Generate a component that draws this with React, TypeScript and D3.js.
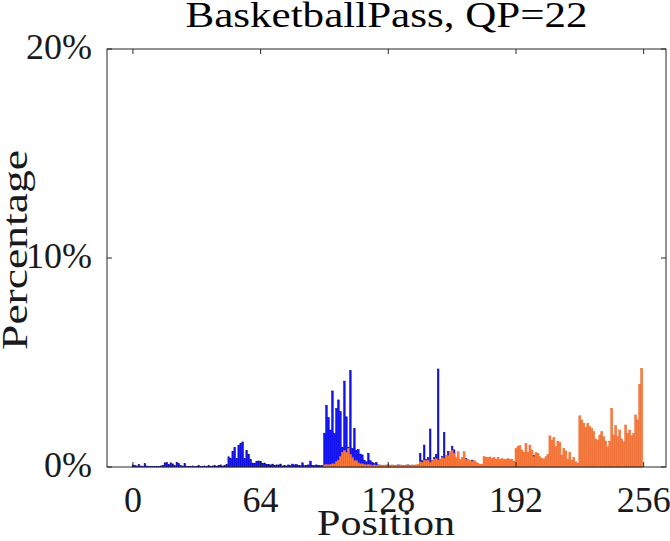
// App.tsx
import React, { useEffect, useRef } from 'react';
import * as d3 from 'd3';

// percentage per position (0..255)
const blueValues: number[] = [
    0.10, 0.08, 0.05, 0.12, 0.05, 0.04, 0.16, 0.05, 0.03, 0.04, 0.03, 0.03, 0.04, 0.03, 0.05, 0.08,
    0.20, 0.22, 0.12, 0.20, 0.15, 0.06, 0.22, 0.16, 0.06, 0.05, 0.16, 0.04, 0.04, 0.03, 0.05, 0.03,
    0.04, 0.06, 0.03, 0.04, 0.05, 0.03, 0.06, 0.04, 0.05, 0.07, 0.04, 0.08, 0.10, 0.05, 0.06, 0.12,
    0.49, 0.40, 0.75, 0.94, 0.41, 1.04, 1.13, 1.20, 0.41, 0.78, 0.61, 0.35, 0.19, 0.18, 0.27, 0.29,
    0.27, 0.18, 0.19, 0.13, 0.13, 0.10, 0.14, 0.08, 0.10, 0.10, 0.14, 0.05, 0.08, 0.05, 0.10, 0.07,
    0.14, 0.10, 0.12, 0.08, 0.06, 0.20, 0.06, 0.08, 0.10, 0.28, 0.08, 0.06, 0.10, 0.08, 0.06, 0.08,
    1.62, 2.95, 2.37, 1.77, 3.64, 1.60, 2.80, 3.21, 2.65, 0.95, 4.11, 2.40, 0.95, 4.62, 0.90, 1.85,
    0.81, 0.83, 0.62, 0.58, 0.33, 0.25, 0.66, 0.30, 0.22, 0.17, 0.22, 0.10, 0.06, 0.08, 0.05, 0.06,
    0.10, 0.05, 0.08, 0.06, 0.05, 0.10, 0.06, 0.05, 0.08, 0.06, 0.10, 0.05, 0.08, 0.06, 0.05, 0.08,
    0.65, 0.30, 1.05, 0.35, 0.45, 1.82, 0.30, 0.45, 0.60, 4.69, 0.35, 0.50, 1.66, 0.45, 0.75, 0.50,
    1.00, 0.82, 0.30, 0.25, 0.20, 0.15, 0.10, 0.40, 0.10, 0.10, 0.33, 0.05, 0.05, 0.04, 0.05, 0.04,
    0.05, 0.04, 0.05, 0.05, 0.04, 0.05, 0.04, 0.05, 0.05, 0.04, 0.05, 0.04, 0.05, 0.05, 0.04, 0.05,
    0.05, 0.04, 0.05, 0.04, 0.05, 0.05, 0.04, 0.05, 0.04, 0.55, 0.04, 0.05, 0.04, 0.05, 0.04, 0.05,
    0.04, 0.05, 0.04, 0.05, 0.04, 0.05, 0.04, 0.05, 0.04, 0.05, 0.04, 0.05, 0.04, 0.05, 0.04, 0.05,
    0.04, 0.05, 0.04, 0.05, 0.04, 0.05, 0.04, 0.05, 0.04, 0.05, 0.04, 0.05, 0.04, 0.05, 0.04, 0.05,
    0.04, 0.05, 0.04, 0.05, 0.04, 0.05, 0.04, 0.05, 0.04, 0.05, 0.04, 0.05, 0.04, 0.05, 0.04, 0.05,
];

const orangeValues: number[] = [
    0, 0, 0, 0, 0, 0, 0, 0, 0, 0, 0, 0, 0, 0, 0, 0,
    0, 0, 0, 0, 0, 0, 0, 0, 0, 0, 0, 0, 0, 0, 0, 0,
    0, 0, 0, 0, 0, 0, 0, 0, 0, 0, 0, 0, 0, 0, 0, 0,
    0, 0, 0, 0, 0, 0, 0, 0, 0, 0, 0, 0, 0, 0, 0, 0,
    0, 0, 0, 0, 0, 0, 0, 0, 0, 0, 0, 0, 0, 0, 0, 0,
    0, 0, 0, 0, 0, 0, 0, 0, 0, 0, 0, 0, 0, 0, 0, 0,
    0.10, 0.12, 0.10, 0.12, 0.15, 0.15, 0.25, 0.33, 0.50, 0.70, 0.78, 0.70, 0.90, 0.60, 0.45, 0.30,
    0.30, 0.20, 0.15, 0.15, 0.12, 0.10, 0.12, 0.10, 0.08, 0.10, 0.08, 0.09, 0.10, 0.08, 0.09, 0.10,
    0.08, 0.09, 0.10, 0.08, 0.09, 0.08, 0.10, 0.09, 0.08, 0.10, 0.09, 0.08, 0.10, 0.09, 0.10, 0.12,
    0.25, 0.22, 0.33, 0.30, 0.33, 0.22, 0.30, 0.38, 0.41, 0.33, 0.38, 0.45, 0.41, 0.57, 0.54, 0.73,
    0.78, 0.65, 0.45, 0.73, 0.35, 0.45, 0.73, 0.35, 0.36, 0.32, 0.28, 0.32, 0.24, 0.18, 0.12, 0.14,
    0.50, 0.46, 0.46, 0.48, 0.42, 0.46, 0.36, 0.46, 0.36, 0.40, 0.36, 0.36, 0.40, 0.36, 0.36, 0.28,
    0.88, 0.98, 1.02, 0.81, 0.70, 1.13, 0.70, 1.05, 0.81, 0.50, 0.70, 0.65, 0.49, 0.41, 0.38, 0.49,
    0.60, 1.49, 1.29, 1.40, 0.97, 1.24, 1.18, 0.57, 0.89, 0.77, 0.38, 0.70, 0.33, 0.45, 0.25, 0.17,
    2.45, 2.25, 2.09, 1.88, 2.09, 1.93, 1.85, 1.69, 1.34, 1.29, 1.53, 1.69, 1.45, 1.24, 0.97, 1.24,
    2.81, 1.53, 1.98, 1.45, 1.77, 1.34, 1.21, 2.01, 1.61, 1.77, 1.49, 1.61, 2.49, 2.25, 3.96, 4.72,
];

const xTicks = [0, 64, 128, 192, 256];
const yTicks = [0, 10, 20];
const titleText = 'BasketballPass, QP=22';

const W = 670;
const H = 541;
const FONT = '"Liberation Serif", "Times New Roman", serif';
const AXIS_COLOR = '#262626';

const App: React.FC = () => {
    const svgRef = useRef<SVGSVGElement | null>(null);

    useEffect(() => {
        if (!svgRef.current) return;
        const svg = d3.select(svgRef.current);
        svg.selectAll('*').remove();

        const left = 107, right = 666, top = 49, bottom = 467;
        const x = d3.scaleLinear().domain([-13, 267.2]).range([left, right]);
        const y = d3.scaleLinear().domain([0, 20]).range([bottom, top]);

        // blue series first, orange drawn over it
        const drawBars = (values: number[], fill: string, stroke: string, width: number) => {
            svg.append('g')
                .selectAll('rect')
                .data(values.map((v, i) => ({ pos: i, v })).filter(d => d.v > 0))
                .join('rect')
                .attr('x', d => x(d.pos - width / 2))
                .attr('width', d => x(d.pos + width / 2) - x(d.pos - width / 2))
                .attr('y', d => y(d.v))
                .attr('height', d => y(0) - y(d.v))
                .attr('fill', fill)
                .attr('stroke', stroke)
                .attr('stroke-width', 0.5);
        };
        drawBars(blueValues, '#1414f0', '#00008a', 0.8);
        drawBars(orangeValues, '#ff7a3d', '#e8692c', 1.0);

        // box
        svg.append('rect')
            .attr('x', left).attr('y', top)
            .attr('width', right - left).attr('height', bottom - top)
            .attr('fill', 'none').attr('stroke', AXIS_COLOR).attr('stroke-width', 1);

        // inward ticks
        const tickLen = 5;
        const tg = svg.append('g').attr('stroke', AXIS_COLOR).attr('stroke-width', 1);
        xTicks.forEach(t => {
            tg.append('line').attr('x1', x(t)).attr('x2', x(t)).attr('y1', bottom).attr('y2', bottom - tickLen);
            tg.append('line').attr('x1', x(t)).attr('x2', x(t)).attr('y1', top).attr('y2', top + tickLen);
        });
        yTicks.forEach(t => {
            tg.append('line').attr('x1', left).attr('x2', left + tickLen).attr('y1', y(t)).attr('y2', y(t));
            tg.append('line').attr('x1', right).attr('x2', right - tickLen).attr('y1', y(t)).attr('y2', y(t));
        });

        // tick labels
        svg.append('g')
            .selectAll('text')
            .data(xTicks)
            .join('text')
            .attr('x', d => x(d))
            .attr('y', 512)
            .attr('text-anchor', 'middle')
            .attr('font-family', FONT)
            .attr('font-size', 36)
            .attr('fill', '#1a1a1a')
            .text(d => String(d));

        svg.append('g')
            .selectAll('text')
            .data(yTicks)
            .join('text')
            .attr('x', 92)
            .attr('y', d => y(d) + 10)
            .attr('text-anchor', 'end')
            .attr('font-family', FONT)
            .attr('font-size', 36)
            .attr('fill', '#1a1a1a')
            .text(d => `${d}%`);

        // title and axis labels
        svg.append('text')
            .attr('x', (left + right) / 2)
            .attr('y', 27)
            .attr('text-anchor', 'middle')
            .attr('font-family', FONT)
            .attr('font-size', 35)
            .attr('textLength', 402)
            .attr('lengthAdjust', 'spacingAndGlyphs')
            .attr('fill', '#000')
            .text(titleText);

        svg.append('text')
            .attr('x', 386)
            .attr('y', 535)
            .attr('text-anchor', 'middle')
            .attr('font-family', FONT)
            .attr('font-size', 36)
            .attr('textLength', 138)
            .attr('lengthAdjust', 'spacingAndGlyphs')
            .attr('fill', '#1a1a1a')
            .text('Position');

        svg.append('text')
            .attr('transform', `translate(27, 250) rotate(-90)`)
            .attr('text-anchor', 'middle')
            .attr('font-family', FONT)
            .attr('font-size', 36)
            .attr('textLength', 200)
            .attr('lengthAdjust', 'spacingAndGlyphs')
            .attr('fill', '#1a1a1a')
            .text('Percentage');
    }, []);

    return (
        <svg
            ref={svgRef}
            width={W}
            height={H}
            style={{ position: 'absolute', left: 0, top: 0, background: '#fff' }}
        />
    );
};

export default App;
